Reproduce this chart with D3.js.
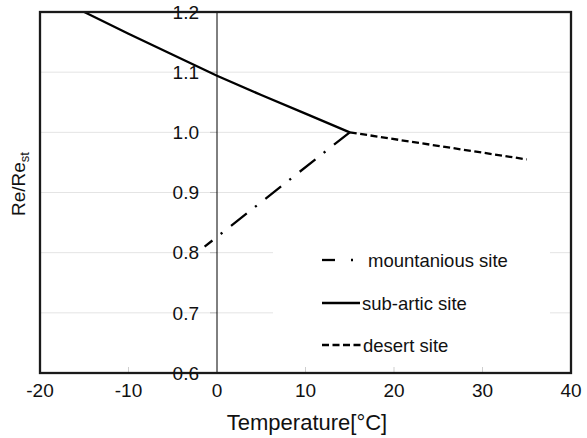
<!DOCTYPE html>
<html>
<head>
<meta charset="utf-8">
<script src="https://cdn.jsdelivr.net/npm/d3@7"></script>
<style>
  html, body { margin: 0; padding: 0; background: #fff; }
  svg { display: block; font-family: "Liberation Sans", Arial, Helvetica, sans-serif; }
</style>
</head>
<body>
<svg id="chart" width="587" height="438"></svg>
<script>
// ---- data ----
const xTicks = [-20, -10, 0, 10, 20, 30, 40];
const yTicks = [0.6, 0.7, 0.8, 0.9, 1.0, 1.1, 1.2];
const yTickLabels = ["0.6", "0.7", "0.8", "0.9", "1.0", "1.1", "1.2"];

const subArticTemp  = [-15, -10, -5, 0, 5, 10, 15];
const subArticRe    = [1.2, 1.164, 1.129, 1.094, 1.062, 1.031, 1.0];
const mountainTemp  = [-1.4, 15];
const mountainRe    = [0.81, 1.0];
const desertTemp    = [15, 35];
const desertRe      = [1.0, 0.955];

const legendLabels = ["mountanious site", "sub-artic site", "desert site"];

// ---- layout ----
const svg = d3.select("#chart");
const L = 40, R = 571, T = 12, B = 373;
const x = d3.scaleLinear().domain([-20, 40]).range([L, R]);
const y = d3.scaleLinear().domain([0.6, 1.2]).range([B, T]);

// gridlines
svg.append("g").selectAll("line")
  .data(yTicks.filter(v => v > 0.6 + 1e-9 && v < 1.2 - 1e-9))
  .join("line")
  .attr("x1", L).attr("x2", R)
  .attr("y1", d => y(d)).attr("y2", d => y(d))
  .attr("stroke", "#e4e4e4").attr("stroke-width", 1);

// x tick marks (small, upward from bottom)
svg.append("g").selectAll("line")
  .data(xTicks.filter(v => v !== 0 && v > -20 && v < 40))
  .join("line")
  .attr("x1", d => x(d)).attr("x2", d => x(d))
  .attr("y1", B).attr("y2", B - 6)
  .attr("stroke", "#cfcfcf").attr("stroke-width", 1);

// y tick marks to the left of the zero line
svg.append("g").selectAll("line")
  .data(yTicks.filter(v => v > 0.6 + 1e-9 && v < 1.2 - 1e-9))
  .join("line")
  .attr("x1", x(0) - 7).attr("x2", x(0))
  .attr("y1", d => y(d)).attr("y2", d => y(d))
  .attr("stroke", "#bdbdbd").attr("stroke-width", 1);

// zero vertical line
svg.append("line")
  .attr("x1", x(0)).attr("x2", x(0))
  .attr("y1", T).attr("y2", B)
  .attr("stroke", "#000").attr("stroke-width", 1);

// legend background (hides gridlines)
svg.append("rect")
  .attr("x", 273).attr("y", 232).attr("width", 277).attr("height", 128)
  .attr("fill", "#fff");

// lines
const line = d3.line().x(d => x(d[0])).y(d => y(d[1]));
const subPts = subArticTemp.map((t, i) => [t, subArticRe[i]]);
const mtnPts = mountainTemp.map((t, i) => [t, mountainRe[i]]).reverse();
const desPts = desertTemp.map((t, i) => [t, desertRe[i]]);

svg.append("path").attr("d", line(subPts))
  .attr("fill", "none").attr("stroke", "#000").attr("stroke-width", 2.3);
svg.append("path").attr("d", line(mtnPts))
  .attr("fill", "none").attr("stroke", "#000").attr("stroke-width", 2.3)
  .attr("stroke-dasharray", "20,11,2.2,10.5");
svg.append("path").attr("d", line(desPts))
  .attr("fill", "none").attr("stroke", "#000").attr("stroke-width", 2.3)
  .attr("stroke-dasharray", "7,3.5");

// frame
svg.append("rect")
  .attr("x", L).attr("y", T).attr("width", R - L).attr("height", B - T)
  .attr("fill", "none").attr("stroke", "#1a1a1a").attr("stroke-width", 2.3);

// x tick labels
svg.append("g").selectAll("text")
  .data(xTicks)
  .join("text")
  .attr("x", d => x(d)).attr("y", 397)
  .attr("text-anchor", "middle")
  .attr("font-size", 19).attr("fill", "#111")
  .text(d => d);

// y tick labels
svg.append("g").selectAll("text")
  .data(yTicks)
  .join("text")
  .attr("x", 199).attr("y", d => y(d) + 6.8)
  .attr("text-anchor", "end")
  .attr("font-size", 19).attr("fill", "#111")
  .text((d, i) => yTickLabels[i]);

// axis titles
svg.append("text")
  .attr("x", 307).attr("y", 430)
  .attr("text-anchor", "middle")
  .attr("font-size", 22).attr("fill", "#111")
  .text("Temperature[°C]");

const yt = svg.append("text")
  .attr("transform", "translate(25,184) rotate(-90)")
  .attr("text-anchor", "middle")
  .attr("font-size", 19).attr("fill", "#111");
yt.append("tspan").text("Re/Re");
yt.append("tspan").attr("font-size", 13).attr("dy", 4).text("st");

// legend
const lgY = [260, 303, 345];
const lg = svg.append("g");
// mountain sample
lg.append("line").attr("x1", 322).attr("x2", 335).attr("y1", lgY[0]).attr("y2", lgY[0])
  .attr("stroke", "#000").attr("stroke-width", 2.3);
lg.append("line").attr("x1", 351).attr("x2", 353).attr("y1", lgY[0]).attr("y2", lgY[0])
  .attr("stroke", "#000").attr("stroke-width", 2.3);
// sub-artic sample
lg.append("line").attr("x1", 322).attr("x2", 360).attr("y1", lgY[1]).attr("y2", lgY[1])
  .attr("stroke", "#000").attr("stroke-width", 2.3);
// desert sample
lg.append("line").attr("x1", 322).attr("x2", 362).attr("y1", lgY[2]).attr("y2", lgY[2])
  .attr("stroke", "#000").attr("stroke-width", 2.3).attr("stroke-dasharray", "7,3.5");

const lgX = [368, 362, 363];
lg.selectAll("text").data(legendLabels).join("text")
  .attr("x", (d, i) => lgX[i]).attr("y", (d, i) => lgY[i] + 6.5)
  .attr("font-size", 18.5).attr("fill", "#111")
  .text(d => d);
</script>
</body>
</html>
